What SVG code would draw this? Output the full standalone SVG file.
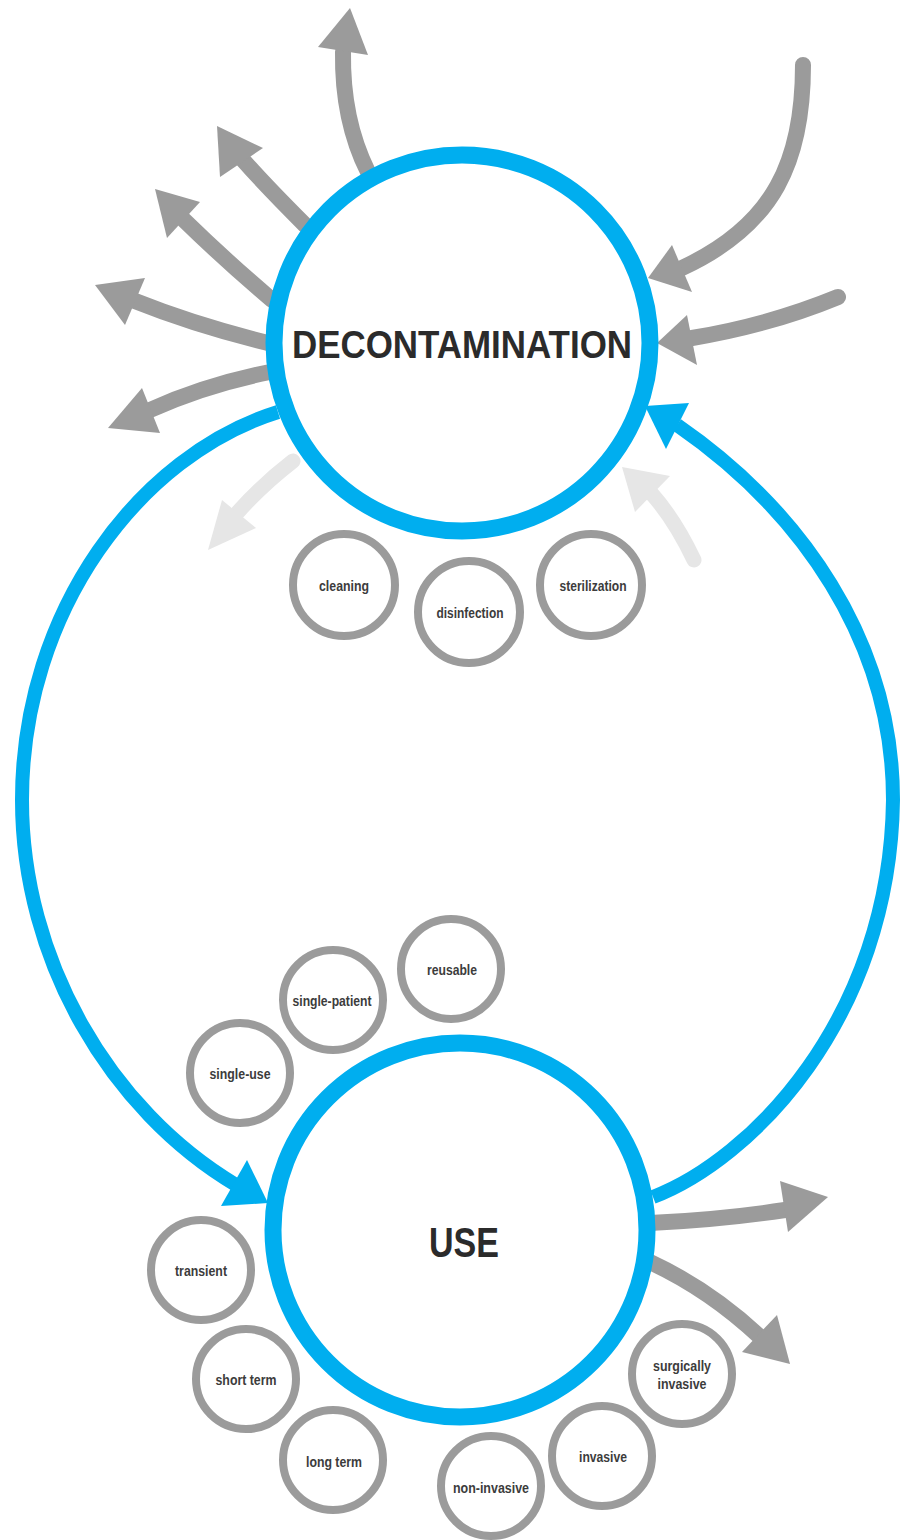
<svg xmlns="http://www.w3.org/2000/svg" width="901" height="1540" viewBox="0 0 901 1540">
<style>
.bg{fill:#ffffff}
.shaft{fill:none;stroke:#9b9b9b;stroke-width:16;stroke-linecap:round}
.head{fill:#9b9b9b}
.lshaft{fill:none;stroke:#e6e6e6;stroke-width:15;stroke-linecap:round}
.lhead{fill:#e6e6e6}
.loop{fill:none;stroke:#00aeef;stroke-width:14}
.bhead{fill:#00aeef}
.main{fill:#ffffff;stroke:#00aeef;stroke-width:17}
.small{fill:#ffffff;stroke:#9b9b9b;stroke-width:8}
.big{font-family:"Liberation Sans",Arial,sans-serif;font-weight:bold;fill:#2b2b2b;text-anchor:middle}
.lbl{font-family:"Liberation Sans",Arial,sans-serif;font-weight:bold;font-size:15px;fill:#3c3c3c;text-anchor:middle}
</style>
<rect class="bg" x="0" y="0" width="901" height="1540"/>
<g id="connectors">
  <!-- outgoing grey arrows from decontamination -->
  <path class="shaft" d="M368 172 Q342 120 343 52"/>
  <polygon class="head" points="350,8 318,47 368,55"/>
  <path class="shaft" d="M305 225 Q265 185 243 160"/>
  <polygon class="head" points="217,126 220,177 263,148"/>
  <path class="shaft" d="M272 300 Q225 260 184 220"/>
  <polygon class="head" points="155,189 167,238 200,202"/>
  <path class="shaft" d="M268 343 Q195 325 135 301"/>
  <polygon class="head" points="95,285 125,325 145,278"/>
  <path class="shaft" d="M270 372 Q205 385 150 410"/>
  <polygon class="head" points="108,428 142,388 160,433"/>
  <!-- incoming grey arrows to decontamination -->
  <path class="shaft" d="M803 65 C803 160 775 225 682 268"/>
  <polygon class="head" points="648,278 672,245 692,292"/>
  <path class="shaft" d="M838 297 Q770 325 692 338"/>
  <polygon class="head" points="657,343 687,315 697,365"/>
  <!-- light grey arrows -->
  <path class="lshaft" d="M293 461 Q262 485 238 512"/>
  <polygon class="lhead" points="208,550 222,500 256,528"/>
  <path class="lshaft" d="M694 560 Q675 520 652 494"/>
  <polygon class="lhead" points="622,467 635,512 670,476"/>
  <!-- outgoing grey arrows from use -->
  <path class="shaft" d="M650 1223 Q720 1220 785 1210"/>
  <polygon class="head" points="828,1197 780,1181 788,1232"/>
  <path class="shaft" d="M650 1262 Q710 1290 760 1337"/>
  <polygon class="head" points="790,1364 742,1352 777,1315"/>
  <!-- blue loop -->
  <path class="loop" d="M278 412 C140 455 22 610 22 800 C22 960 110 1110 236 1185"/>
  <polygon class="bhead" points="268,1203 247,1160 221,1206"/>
  <path class="loop" d="M653 1197 C750 1160 890 1020 893 800 C893 640 800 510 677 425"/>
  <polygon class="bhead" points="645,406 689,403 666,449"/>
</g>
<g id="node-decontamination">
  <circle class="main" cx="462" cy="343" r="188"/>
  <text class="big" x="462" y="358" font-size="39" textLength="340" lengthAdjust="spacingAndGlyphs">DECONTAMINATION</text>
</g>
<g id="node-use">
  <circle class="main" cx="460" cy="1230" r="187"/>
  <text class="big" x="464" y="1257" font-size="42" textLength="70" lengthAdjust="spacingAndGlyphs">USE</text>
</g>
<g id="node-cleaning">
  <circle class="small" cx="344" cy="585" r="51"/>
  <text class="lbl" x="344" y="591" textLength="50" lengthAdjust="spacingAndGlyphs">cleaning</text>
</g>
<g id="node-disinfection">
  <circle class="small" cx="469" cy="612" r="51"/>
  <text class="lbl" x="470" y="618" textLength="67" lengthAdjust="spacingAndGlyphs">disinfection</text>
</g>
<g id="node-sterilization">
  <circle class="small" cx="591" cy="585" r="51"/>
  <text class="lbl" x="593" y="591" textLength="67" lengthAdjust="spacingAndGlyphs">sterilization</text>
</g>
<g id="node-reusable">
  <circle class="small" cx="451" cy="969" r="50"/>
  <text class="lbl" x="452" y="975" textLength="50" lengthAdjust="spacingAndGlyphs">reusable</text>
</g>
<g id="node-single-patient">
  <circle class="small" cx="333" cy="1000" r="50"/>
  <text class="lbl" x="332" y="1006" textLength="79" lengthAdjust="spacingAndGlyphs">single-patient</text>
</g>
<g id="node-single-use">
  <circle class="small" cx="240" cy="1073" r="50"/>
  <text class="lbl" x="240" y="1079" textLength="61" lengthAdjust="spacingAndGlyphs">single-use</text>
</g>
<g id="node-transient">
  <circle class="small" cx="201" cy="1270" r="50"/>
  <text class="lbl" x="201" y="1276" textLength="52" lengthAdjust="spacingAndGlyphs">transient</text>
</g>
<g id="node-short-term">
  <circle class="small" cx="246" cy="1379" r="50"/>
  <text class="lbl" x="246" y="1385" textLength="61" lengthAdjust="spacingAndGlyphs">short term</text>
</g>
<g id="node-long-term">
  <circle class="small" cx="333" cy="1460" r="50"/>
  <text class="lbl" x="334" y="1467" textLength="56" lengthAdjust="spacingAndGlyphs">long term</text>
</g>
<g id="node-non-invasive">
  <circle class="small" cx="491" cy="1486" r="50"/>
  <text class="lbl" x="491" y="1493" textLength="76" lengthAdjust="spacingAndGlyphs">non-invasive</text>
</g>
<g id="node-invasive">
  <circle class="small" cx="602" cy="1456" r="50"/>
  <text class="lbl" x="603" y="1462" textLength="48" lengthAdjust="spacingAndGlyphs">invasive</text>
</g>
<g id="node-surgically-invasive">
  <circle class="small" cx="682" cy="1374" r="50"/>
  <text class="lbl" x="682" y="1371" textLength="58" lengthAdjust="spacingAndGlyphs">surgically</text>
  <text class="lbl" x="682" y="1389" textLength="49" lengthAdjust="spacingAndGlyphs">invasive</text>
</g>
</svg>
